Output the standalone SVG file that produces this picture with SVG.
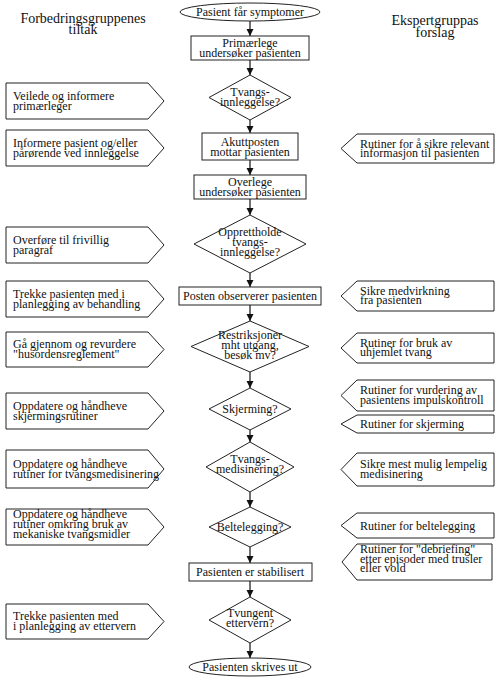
<svg xmlns="http://www.w3.org/2000/svg" width="500" height="680" viewBox="0 0 500 680">
<style>
text{font-family:"Liberation Serif","Times New Roman",serif;font-size:12px;fill:#111}
.c{text-anchor:middle}
.h{font-size:14px;text-anchor:middle}
.s{fill:#fff;stroke:#222;stroke-width:1}
.e{stroke:#111;stroke-width:1.2;fill:none}
</style>
<defs>
<marker id="ah" markerUnits="userSpaceOnUse" markerWidth="8" markerHeight="8" refX="7" refY="4" orient="auto">
<path d="M0,0.5 L7,4 L0,7.5 z" fill="#111"/>
</marker>
</defs>
<rect width="500" height="680" fill="#fff"/>
<g id="headings">
<text class="h" x="83" y="23">Forbedringsgruppenes</text>
<text class="h" x="83" y="34">tiltak</text>
<text class="h" x="435" y="25">Ekspertgruppas</text>
<text class="h" x="435" y="37">forslag</text>
</g>
<g id="connectors">
<line class="e" x1="250" y1="21" x2="250" y2="36" marker-end="url(#ah)"/>
<line class="e" x1="250" y1="60" x2="250" y2="75" marker-end="url(#ah)"/>
<line class="e" x1="250" y1="120" x2="250" y2="133" marker-end="url(#ah)"/>
<line class="e" x1="250" y1="160" x2="250" y2="175" marker-end="url(#ah)"/>
<line class="e" x1="250" y1="199" x2="250" y2="215" marker-end="url(#ah)"/>
<line class="e" x1="250" y1="273" x2="250" y2="287" marker-end="url(#ah)"/>
<line class="e" x1="250" y1="305" x2="250" y2="321" marker-end="url(#ah)"/>
<line class="e" x1="250" y1="372" x2="250" y2="388" marker-end="url(#ah)"/>
<line class="e" x1="250" y1="430" x2="250" y2="442" marker-end="url(#ah)"/>
<line class="e" x1="250" y1="492" x2="250" y2="507" marker-end="url(#ah)"/>
<line class="e" x1="250" y1="547" x2="250" y2="563" marker-end="url(#ah)"/>
<line class="e" x1="250" y1="581" x2="250" y2="597" marker-end="url(#ah)"/>
<line class="e" x1="250" y1="643" x2="250" y2="658" marker-end="url(#ah)"/>
</g>
<g id="n1"><ellipse class="s" cx="250" cy="12" rx="70" ry="9"/><text class="c" x="250" y="16">Pasient får symptomer</text></g>
<g id="n2"><rect class="s" x="191" y="36" width="118" height="24"/><text class="c" x="250" y="47">Primærlege</text><text class="c" x="250" y="57">undersøker pasienten</text></g>
<g id="n3"><polygon class="s" points="250,75 291,97.5 250,120 209,97.5"/><text class="c" x="250" y="95.5">Tvangs-</text><text class="c" x="250" y="106">innleggelse?</text></g>
<g id="n4"><rect class="s" x="202" y="133" width="96" height="27"/><text class="c" x="250" y="146">Akuttposten</text><text class="c" x="250" y="156">mottar pasienten</text></g>
<g id="n5"><rect class="s" x="194" y="175" width="112" height="24"/><text class="c" x="250" y="186">Overlege</text><text class="c" x="250" y="196">undersøker pasienten</text></g>
<g id="n6"><polygon class="s" points="250,215 306,244 250,273 194,244"/><text class="c" x="250" y="236">Opprettholde</text><text class="c" x="250" y="246">tvangs-</text><text class="c" x="250" y="256">innleggelse?</text></g>
<g id="n7"><rect class="s" x="179" y="287" width="142" height="18"/><text class="c" x="250" y="300">Posten observerer pasienten</text></g>
<g id="n8"><polygon class="s" points="250,321 309,346.5 250,372 191,346.5"/><text class="c" x="250" y="339">Restriksjoner</text><text class="c" x="250" y="349">mht utgang,</text><text class="c" x="250" y="359">besøk mv?</text></g>
<g id="n9"><polygon class="s" points="250,388 291,409 250,430 209,409"/><text class="c" x="250" y="413">Skjerming?</text></g>
<g id="n10"><polygon class="s" points="250,442 294,467 250,492 206,467"/><text class="c" x="250" y="463">Tvangs-</text><text class="c" x="250" y="473">medisinering?</text></g>
<g id="n11"><polygon class="s" points="250,507 291,527 250,547 209,527"/><text class="c" x="250" y="531">Beltelegging?</text></g>
<g id="n12"><rect class="s" x="189" y="563" width="123" height="18"/><text class="c" x="250" y="576">Pasienten er stabilisert</text></g>
<g id="n13"><polygon class="s" points="250,597 291,620 250,643 209,620"/><text class="c" x="250" y="617">Tvungent</text><text class="c" x="250" y="627">ettervern?</text></g>
<g id="n14"><ellipse class="s" cx="250" cy="667" rx="61" ry="9"/><text class="c" x="250" y="671">Pasienten skrives ut</text></g>
<g id="l1"><polygon class="s" points="6,83 148,83 164,101 148,119 6,119"/><text x="13" y="99.5">Veilede og  informere</text><text x="13" y="109.5">primærleger</text></g>
<g id="l2"><polygon class="s" points="6,130 148,130 164,148 148,166 6,166"/><text x="13" y="146.5">Informere pasient og/eller</text><text x="13" y="156.5">pårørende ved innleggelse</text></g>
<g id="l3"><polygon class="s" points="6,227 148,227 164,245 148,263 6,263"/><text x="13" y="243.5">Overføre til frivillig</text><text x="13" y="253.5">paragraf</text></g>
<g id="l4"><polygon class="s" points="6,281 148,281 164,299 148,317 6,317"/><text x="13" y="297.5">Trekke pasienten med i</text><text x="13" y="307.5">planlegging av behandling</text></g>
<g id="l5"><polygon class="s" points="6,332 148,332 164,349.5 148,367 6,367"/><text x="13" y="348">Gå gjennom og revurdere</text><text x="13" y="358">"husordensreglement"</text></g>
<g id="l6"><polygon class="s" points="6,393 148,393 164,411 148,429 6,429"/><text x="13" y="409.5">Oppdatere og håndheve</text><text x="13" y="419.5">skjermingsrutiner</text></g>
<g id="l7"><polygon class="s" points="6,450 148,450 164,469 148,488 6,488"/><text x="13" y="467.5">Oppdatere og håndheve</text><text x="13" y="477.5">rutiner for tvangsmedisinering</text></g>
<g id="l8"><polygon class="s" points="6,509 148,509 164,527 148,545 6,545"/><text x="13" y="518">Oppdatere og håndheve</text><text x="13" y="528">rutiner omkring bruk av</text><text x="13" y="538">mekaniske tvangsmidler</text></g>
<g id="l9"><polygon class="s" points="6,604 148,604 164,621.5 148,639 6,639"/><text x="13" y="620">Trekke pasienten med</text><text x="13" y="630">i planlegging av ettervern</text></g>
<g id="r1"><polygon class="s" points="341,148.5 357,134 494,134 494,163 357,163"/><text x="360" y="147.5">Rutiner for å sikre relevant</text><text x="360" y="157">informasjon til pasienten</text></g>
<g id="r2"><polygon class="s" points="341,296 357,281 494,281 494,311 357,311"/><text x="360" y="294.5">Sikre medvirkning</text><text x="360" y="304">fra pasienten</text></g>
<g id="r3"><polygon class="s" points="341,348 357,333 494,333 494,363 357,363"/><text x="360" y="346.5">Rutiner for bruk av</text><text x="360" y="356">uhjemlet tvang</text></g>
<g id="r4"><polygon class="s" points="341,395.5 357,380 494,380 494,411 357,411"/><text x="360" y="394">Rutiner for vurdering av</text><text x="360" y="403.5">pasientens impulskontroll</text></g>
<g id="r5"><polygon class="s" points="341,424 357,415 494,415 494,433 357,433"/><text x="360" y="428">Rutiner for skjerming</text></g>
<g id="r6"><polygon class="s" points="341,469.5 357,453 494,453 494,486 357,486"/><text x="360" y="468">Sikre mest mulig lempelig</text><text x="360" y="477.5">medisinering</text></g>
<g id="r7"><polygon class="s" points="341,525.5 357,513 494,513 494,538 357,538"/><text x="360" y="529.5">Rutiner for beltelegging</text></g>
<g id="r8"><polygon class="s" points="342,562 357,544 492,544 492,580 357,580"/><text x="360" y="553">Rutiner for "debriefing"</text><text x="360" y="562.5">etter episoder med trusler</text><text x="360" y="572">eller vold</text></g>
</svg>
